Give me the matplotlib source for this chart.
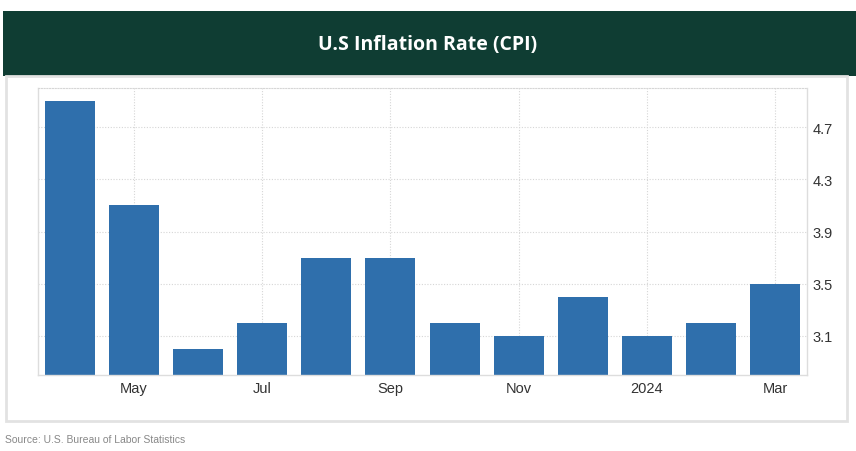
import matplotlib.pyplot as plt
from matplotlib.patches import Rectangle

months = ['Apr', 'May', 'Jun', 'Jul', 'Aug', 'Sep', 'Oct', 'Nov', 'Dec', 'Jan', 'Feb', 'Mar']
tick_labels = ['May', 'Jul', 'Sep', 'Nov', '2024', 'Mar']
cpi = [4.9, 4.1, 3.0, 3.2, 3.7, 3.7, 3.2, 3.1, 3.4, 3.1, 3.2, 3.5]
y_ticks = [3.1, 3.5, 3.9, 4.3, 4.7]

W, H = 856, 452
fig = plt.figure(figsize=(W / 100, H / 100), dpi=100)
fig.patch.set_facecolor('white')

# header band
fig.patches.append(Rectangle((3 / W, 1 - 77 / H), 1, 65 / H, transform=fig.transFigure,
                             facecolor='#0f3d33', edgecolor='none', zorder=0))
fig.text(428 / W, 1 - 45 / H, 'U.S Inflation Rate (CPI)', color='white', fontsize=14,
         fontweight='bold', family='Open Sans', ha='center', va='center')

# panel border
fig.patches.append(Rectangle((6 / W, 1 - 422 / H), 841 / W, 345 / H, transform=fig.transFigure,
                             facecolor='none', edgecolor='#e2e2e2', linewidth=2, zorder=0))

ax = fig.add_axes([38 / W, 1 - 376 / H, (807 - 38) / W, (376 - 89) / H])
x = list(range(len(months)))
ax.bar(x, cpi, width=0.78, color='#2f6fac', zorder=2)
ax.set_xlim(-0.5, 11.5)
ax.set_ylim(2.8, 5.0)

ax.set_xticks(x[1::2])
ax.set_xticklabels(tick_labels)
ax.yaxis.tick_right()
ax.set_yticks(y_ticks)
ax.set_yticklabels([f'{v:.1f}' for v in y_ticks])
ax.tick_params(length=0, labelsize=10.5, colors='#333333', pad=4)
for lab in ax.get_xticklabels() + ax.get_yticklabels():
    lab.set_family('Liberation Sans')

ax.grid(True, color='#d6d6d6', linestyle=(0, (1, 1.5)), linewidth=0.8, zorder=0)
for side in ['left', 'right', 'bottom']:
    ax.spines[side].set_color('#dddddd')
    ax.spines[side].set_linewidth(1)
ax.spines['top'].set_color('#d6d6d6')
ax.spines['top'].set_linestyle((0, (1, 1.5)))
ax.spines['top'].set_linewidth(0.8)

fig.text(5 / W, 1 - 440 / H, 'Source: U.S. Bureau of Labor Statistics', color='#888888',
         fontsize=7.5, family='Liberation Sans', ha='left', va='center')

fig.savefig('out.png', dpi=100)
